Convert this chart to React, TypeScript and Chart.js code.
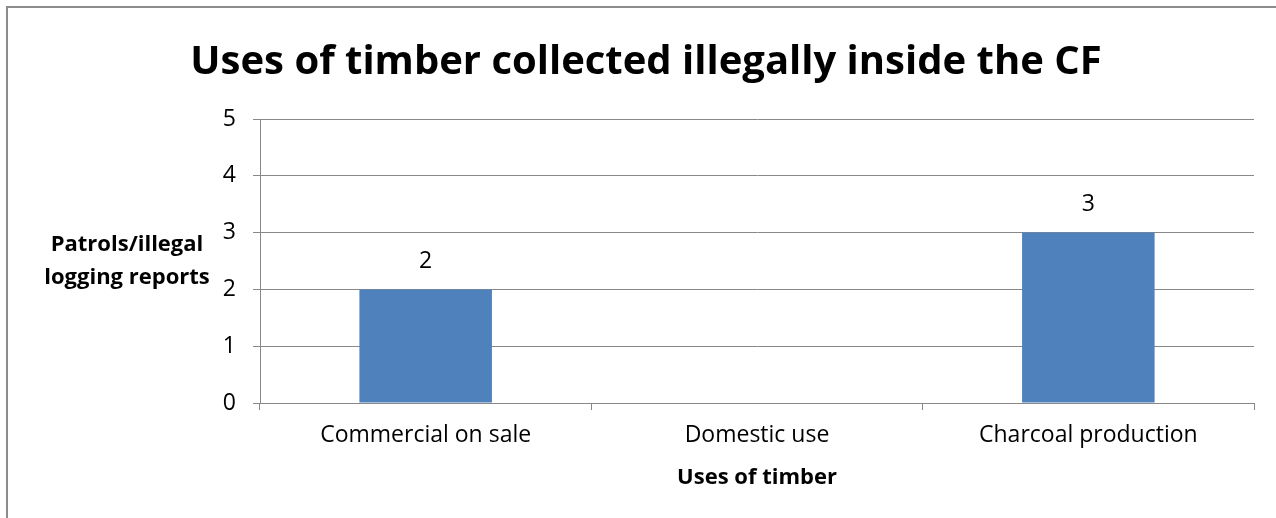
import React, { useEffect, useRef } from "react";
import { Chart, registerables } from "chart.js";
Chart.register(...registerables);

const categories = ["Commercial on sale", "Domestic use", "Charcoal production"];
const reports = [2, 0, 3];
const yTicks = [0, 1, 2, 3, 4, 5];
const titleText = "Uses of timber collected illegally inside the CF";
const yTitleLines = ["Patrols/illegal", "logging reports"];
const xTitleText = "Uses of timber";

const FONT = "'Open Sans', Lato, sans-serif";
const GRID = "#888888";
const BAR = "#4F81BD";

export default function App() {
  const ref = useRef<HTMLCanvasElement>(null);
  useEffect(() => {
    const decor = {
      id: "decor",
      beforeDraw(chart: any) {
        const ctx = chart.ctx;
        ctx.save();
        ctx.fillStyle = "#fff";
        ctx.fillRect(0, 0, chart.width, chart.height);
        ctx.strokeStyle = "#8c8c8c";
        ctx.lineWidth = 2;
        ctx.beginPath();
        ctx.moveTo(7, chart.height + 5);
        ctx.lineTo(7, 7);
        ctx.lineTo(chart.width + 5, 7);
        ctx.stroke();
        ctx.restore();
      },
      afterDraw(chart: any) {
        const ctx = chart.ctx;
        const area = chart.chartArea;
        ctx.save();
        ctx.fillStyle = "#000";
        // title
        ctx.font = `bold 40px ${FONT}`;
        ctx.textAlign = "center";
        ctx.textBaseline = "alphabetic";
        ctx.fillText(titleText, 646, 74);
        // y title
        ctx.font = `bold 22px ${FONT}`;
        ctx.textBaseline = "middle";
        yTitleLines.forEach((l, i) => ctx.fillText(l, 127, 245 + i * 33));
        // x title
        ctx.textBaseline = "alphabetic";
        ctx.fillText(xTitleText, (area.left + area.right) / 2, 484);
        // data labels
        ctx.font = `23px ${FONT}`;
        ctx.textBaseline = "middle";
        const meta = chart.getDatasetMeta(0);
        meta.data.forEach((el: any, i: number) => {
          if (reports[i] === 0) return;
          ctx.fillText(String(reports[i]), el.x, el.y - 28);
        });
        ctx.restore();
      },
    };
    const tickFont = { family: FONT, size: 23 };
    const chart = new Chart(ref.current as HTMLCanvasElement, {
      type: "bar",
      data: {
        labels: categories,
        datasets: [
          {
            data: reports,
            backgroundColor: BAR,
            barPercentage: 0.4,
            categoryPercentage: 1,
          },
        ],
      },
      options: {
        responsive: false,
        animation: false,
        layout: { padding: { top: 119, right: 22, left: 0, bottom: 0 } },
        plugins: {
          legend: { display: false },
          tooltip: { enabled: false },
          title: { display: false },
        },
        scales: {
          x: {
            grid: { display: true, drawOnChartArea: false, offset: true, tickLength: 7, color: GRID },
            border: { color: GRID },
            ticks: { font: tickFont, color: "#000", padding: 12, maxRotation: 0 },
            afterFit: (s: any) => {
              s.height = 115;
            },
          },
          y: {
            min: yTicks[0],
            max: yTicks[yTicks.length - 1],
            ticks: { stepSize: 1, font: tickFont, color: "#000", padding: 17 },
            grid: { color: GRID, tickLength: 7 },
            border: { color: GRID },
            afterFit: (s: any) => {
              s.width = 260;
            },
          },
        },
      },
      plugins: [decor],
    } as any);
    return () => chart.destroy();
  }, []);
  return (
    <div style={{ position: "absolute", left: 0, top: 0, width: 1276, height: 518 }}>
      <canvas ref={ref} width={1276} height={518} style={{ display: "block" }} />
    </div>
  );
}
